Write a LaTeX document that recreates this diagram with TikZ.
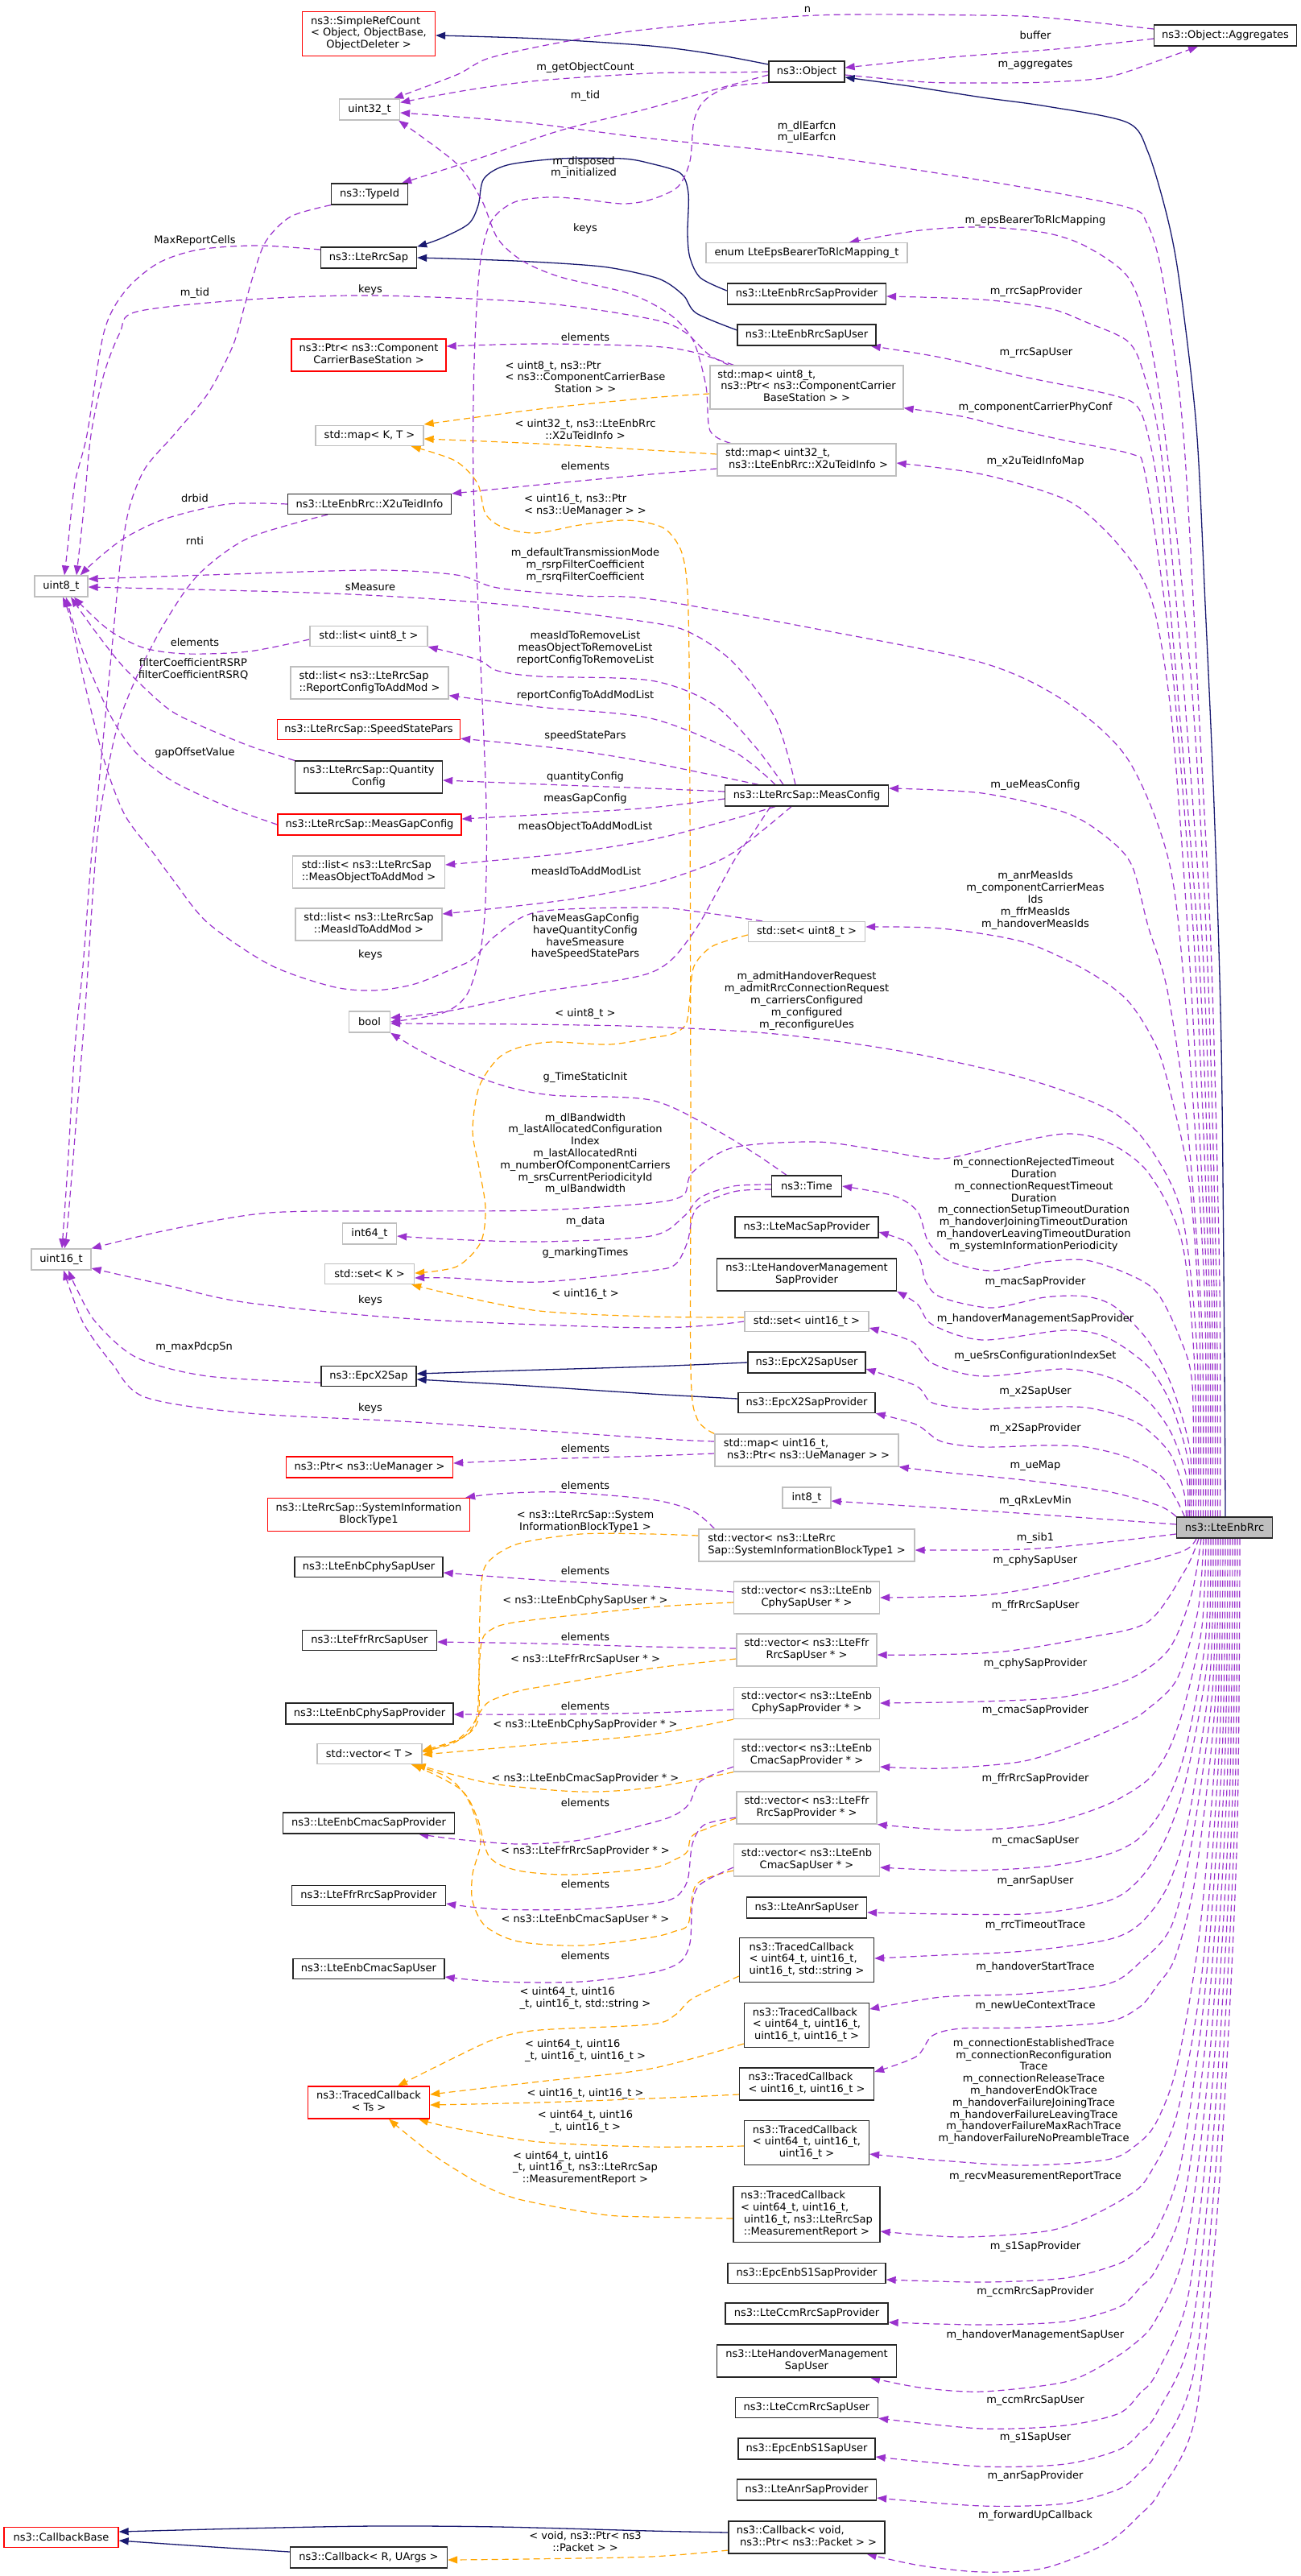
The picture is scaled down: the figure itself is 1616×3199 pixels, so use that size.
\documentclass[tikz,border=0pt]{standalone}
\usepackage{fontspec}
\setmainfont{DejaVu Sans}
\usetikzlibrary{arrows.meta}
\definecolor{pur}{HTML}{9A32CD}
\definecolor{org}{HTML}{FFA500}
\definecolor{mbl}{HTML}{191970}
\definecolor{gbd}{HTML}{BFBFBF}
\pgfdeclarelayer{back}\pgfdeclarelayer{edges}\pgfsetlayers{back,edges,main}
\newcommand\mlx[2]{\begin{tabular}{@{}l@{}}#1\\\multicolumn{1}{@{}c@{}}{#2}\end{tabular}}
\newcommand\mknode[7]{\node[#1,minimum width=#5pt,minimum height=#6pt] (#2) at (#3,#4) {#7};}
\tikzset{
 every node/.style={font=\fontsize{13}{14.8}\selectfont},
 cls/.style={draw=black!85, line width=1.3pt, fill=white, inner sep=2pt, align=center},
 ext/.style={cls, draw=gbd},
 trn/.style={cls, draw=red},
 usearr/.style={draw=pur, line width=1.2pt, dash pattern=on 8pt off 5pt, -{Triangle[length=12pt,width=9pt]}},
 tmpl/.style={usearr, draw=org},
 inh/.style={draw=mbl, line width=1.3pt, -{Triangle[length=12pt,width=9pt]}},
 lbl/.style={inner sep=0pt, align=center},
}
\begin{document}
\begin{tikzpicture}[x=1pt,y=-1pt]
\useasboundingbox (0,0) rectangle (1616,3199);
\begin{pgfonlayer}{back}\fill[white] (0,0) rectangle (1616,3199);\end{pgfonlayer}
% ---------------- nodes
\mknode{cls}{obj}{1002}{89}{94}{26}{ns3::Object}
\mknode{cls}{agg}{1522}{44}{177}{26}{ns3::Object::Aggregates}
\mknode{trn}{src}{458}{42}{165}{55}{\mlx{ns3::SimpleRefCount\\< Object, ObjectBase,}{ObjectDeleter >}}
\mknode{ext}{u32}{459}{136}{75}{26}{uint32\_t}
\mknode{cls}{tid}{459}{241}{95}{26}{ns3::TypeId}
\mknode{cls}{rsap}{458}{320}{119}{26}{ns3::LteRrcSap}
\mknode{ext}{enum}{1002}{314}{250}{25}{enum LteEpsBearerToRlcMapping\_t}
\mknode{cls}{lsp}{1002}{365}{197}{26}{ns3::LteEnbRrcSapProvider}
\mknode{cls}{lsu}{1002}{416}{172}{26}{ns3::LteEnbRrcSapUser}
\mknode{trn}{pccbs}{458}{441}{192}{40}{\mlx{ns3::Ptr< ns3::Component}{CarrierBaseStation >}}
\mknode{ext}{mu8}{1002}{481}{240}{54}{\mlx{std::map< uint8\_t,\\~ns3::Ptr< ns3::ComponentCarrier}{BaseStation > >}}
\mknode{ext}{mkt}{459}{541}{134}{25}{std::map< K, T >}
\mknode{ext}{mu32}{1002}{571}{222}{40}{\mlx{std::map< uint32\_t,}{~ns3::LteEnbRrc::X2uTeidInfo >}}
\mknode{cls}{x2u}{459}{626}{203}{25}{ns3::LteEnbRrc::X2uTeidInfo}
\mknode{ext}{u8}{76}{728}{66}{26}{uint8\_t}
\mknode{ext}{lu8}{458}{790}{146}{25}{std::list< uint8\_t >}
\mknode{ext}{lrc}{459}{848}{196}{40}{\mlx{std::list< ns3::LteRrcSap}{::ReportConfigToAddMod >}}
\mknode{trn}{ssp}{458}{906}{227}{25}{ns3::LteRrcSap::SpeedStatePars}
\mknode{cls}{qc}{458}{965}{183}{40}{\mlx{ns3::LteRrcSap::Quantity}{Config}}
\mknode{trn}{mgc}{459}{1024}{228}{26}{ns3::LteRrcSap::MeasGapConfig}
\mknode{cls}{mc}{1002}{988}{203}{26}{ns3::LteRrcSap::MeasConfig}
\mknode{ext}{lmo}{458}{1083}{189}{40}{\mlx{std::list< ns3::LteRrcSap}{::MeasObjectToAddMod >}}
\mknode{ext}{lmi}{458}{1148}{182}{40}{\mlx{std::list< ns3::LteRrcSap}{::MeasIdToAddMod >}}
\mknode{ext}{su8}{1002}{1157}{145}{25}{std::set< uint8\_t >}
\mknode{ext}{bool}{459}{1269}{51}{26}{bool}
\mknode{cls}{time}{1002}{1473}{87}{26}{ns3::Time}
\mknode{ext}{i64}{459}{1532}{67}{26}{int64\_t}
\mknode{ext}{u16}{76}{1564}{74}{26}{uint16\_t}
\mknode{cls}{mac}{1002}{1524}{178}{26}{ns3::LteMacSapProvider}
\mknode{ext}{setk}{459}{1582}{111}{25}{std::set< K >}
\mknode{cls}{hmsp}{1002}{1583}{223}{40}{\mlx{ns3::LteHandoverManagement}{SapProvider}}
\mknode{ext}{su16}{1002}{1641}{154}{25}{std::set< uint16\_t >}
\mknode{cls}{x2su}{1002}{1692}{146}{26}{ns3::EpcX2SapUser}
\mknode{cls}{x2s}{458}{1709}{118}{25}{ns3::EpcX2Sap}
\mknode{cls}{x2sp}{1002}{1742}{170}{25}{ns3::EpcX2SapProvider}
\mknode{ext}{mu16}{1002}{1801}{228}{40}{\mlx{std::map< uint16\_t,}{~ns3::Ptr< ns3::UeManager > >}}
\mknode{trn}{pue}{459}{1822}{207}{26}{ns3::Ptr< ns3::UeManager >}
\mknode{ext}{i8}{1002}{1860}{60}{26}{int8\_t}
\mknode{trn}{sib}{458}{1881}{251}{41}{\mlx{ns3::LteRrcSap::SystemInformation}{BlockType1}}
\mknode{cls,fill=gbd}{rrc}{1521}{1897}{119}{26}{ns3::LteEnbRrc}
\mknode{ext}{vsib}{1002}{1919}{268}{40}{\mlx{std::vector< ns3::LteRrc}{Sap::SystemInformationBlockType1 >}}
\mknode{cls}{cpu}{458}{1946}{184}{25}{ns3::LteEnbCphySapUser}
\mknode{ext}{vcpu}{1002}{1984}{181}{40}{\mlx{std::vector< ns3::LteEnb}{CphySapUser * >}}
\mknode{cls}{ffu}{459}{2037}{167}{25}{ns3::LteFfrRrcSapUser}
\mknode{ext}{vffu}{1002}{2049}{174}{40}{\mlx{std::vector< ns3::LteFfr}{RrcSapUser * >}}
\mknode{ext}{vcpp}{1002}{2115}{181}{39}{\mlx{std::vector< ns3::LteEnb}{CphySapProvider * >}}
\mknode{cls}{cpp}{459}{2128}{208}{26}{ns3::LteEnbCphySapProvider}
\mknode{ext}{vt}{459}{2178}{130}{25}{std::vector< T >}
\mknode{ext}{vcmp}{1002}{2180}{181}{40}{\mlx{std::vector< ns3::LteEnb}{CmacSapProvider * >}}
\mknode{ext}{vffp}{1002}{2245}{174}{40}{\mlx{std::vector< ns3::LteFfr}{RrcSapProvider * >}}
\mknode{cls}{cmp}{458}{2264}{213}{26}{ns3::LteEnbCmacSapProvider}
\mknode{ext}{vcmu}{1002}{2310}{181}{40}{\mlx{std::vector< ns3::LteEnb}{CmacSapUser * >}}
\mknode{cls}{ffp}{458}{2354}{191}{25}{ns3::LteFfrRrcSapProvider}
\mknode{cls}{anru}{1002}{2369}{149}{26}{ns3::LteAnrSapUser}
\mknode{cls}{tcs}{1002}{2434}{167}{55}{\mlx{ns3::TracedCallback\\< uint64\_t, uint16\_t,}{uint16\_t, std::string >}}
\mknode{cls}{cmu}{458}{2445}{188}{25}{ns3::LteEnbCmacSapUser}
\mknode{cls}{tc4}{1002}{2515}{155}{55}{\mlx{ns3::TracedCallback\\< uint64\_t, uint16\_t,}{uint16\_t, uint16\_t >}}
\mknode{cls}{tc2}{1002}{2588}{167}{40}{\mlx{ns3::TracedCallback}{< uint16\_t, uint16\_t >}}
\mknode{trn}{tcts}{458}{2611}{151}{40}{\mlx{ns3::TracedCallback}{< Ts >}}
\mknode{cls}{tc3}{1002}{2661}{155}{55}{\mlx{ns3::TracedCallback\\< uint64\_t, uint16\_t,}{uint16\_t >}}
\mknode{cls}{tcmr}{1002}{2750}{182}{69}{\mlx{ns3::TracedCallback\\< uint64\_t, uint16\_t,\\~uint16\_t, ns3::LteRrcSap}{::MeasurementReport >}}
\mknode{cls}{s1p}{1002}{2823}{196}{25}{ns3::EpcEnbS1SapProvider}
\mknode{cls}{ccp}{1002}{2873}{202}{26}{ns3::LteCcmRrcSapProvider}
\mknode{cls}{hmsu}{1002}{2932}{223}{40}{\mlx{ns3::LteHandoverManagement}{SapUser}}
\mknode{cls}{ccu}{1002}{2990}{177}{25}{ns3::LteCcmRrcSapUser}
\mknode{cls}{s1u}{1002}{3041}{170}{26}{ns3::EpcEnbS1SapUser}
\mknode{cls}{anrp}{1002}{3092}{173}{26}{ns3::LteAnrSapProvider}
\mknode{cls}{cbv}{1002}{3151}{194}{40}{\mlx{ns3::Callback< void,}{~ns3::Ptr< ns3::Packet > >}}
\mknode{trn}{cbb}{76}{3151}{142}{25}{ns3::CallbackBase}
\mknode{cls}{cbr}{458}{3176}{195}{26}{ns3::Callback< R, UArgs >}
% ---------------- labels
\node[lbl] (l01) at (727,84) {m\_getObjectCount};
\node[lbl] (l02) at (727,119) {m\_tid};
\node[lbl] (l03) at (725,208) {m\_disposed\\m\_initialized};
\node[lbl] (l04) at (727,284) {keys};
\node[lbl] (l05) at (242,299) {MaxReportCells};
\node[lbl] (l06) at (242,364) {m\_tid};
\node[lbl] (l07) at (460,360) {keys};
\node[lbl] (l08) at (727,419) {elements};
\node[lbl] (l09) at (727,579) {elements};
\node[lbl] (l10) at (242,619) {drbid};
\node[lbl] (l11) at (242,672) {rnti};
\node[lbl] (l12) at (727,702) {m\_defaultTransmissionMode\\m\_rsrpFilterCoefficient\\m\_rsrqFilterCoefficient};
\node[lbl] (l13) at (460,729) {sMeasure};
\node[lbl] (l14) at (242,798) {elements};
\node[lbl] (l15) at (727,805) {measIdToRemoveList\\measObjectToRemoveList\\reportConfigToRemoveList};
\node[lbl] (l16) at (240,831) {filterCoefficientRSRP\\filterCoefficientRSRQ};
\node[lbl] (l17) at (727,864) {reportConfigToAddModList};
\node[lbl] (l18) at (727,914) {speedStatePars};
\node[lbl] (l19) at (242,935) {gapOffsetValue};
\node[lbl] (l20) at (727,965) {quantityConfig};
\node[lbl] (l21) at (727,992) {measGapConfig};
\node[lbl] (l22) at (727,1027) {measObjectToAddModList};
\node[lbl] (l23) at (728,1082) {measIdToAddModList};
\node[lbl] (l24) at (727,1163) {haveMeasGapConfig\\haveQuantityConfig\\haveSmeasure\\haveSpeedStatePars};
\node[lbl] (l25) at (460,1186) {keys};
\node[lbl] (l26) at (727,1338) {g\_TimeStaticInit};
\node[lbl] (l27) at (727,1433) {m\_dlBandwidth\\m\_lastAllocatedConfiguration\\Index\\m\_lastAllocatedRnti\\m\_numberOfComponentCarriers\\m\_srsCurrentPeriodicityId\\m\_ulBandwidth};
\node[lbl] (l28) at (727,1517) {m\_data};
\node[lbl] (l29) at (727,1556) {g\_markingTimes};
\node[lbl] (l30) at (460,1615) {keys};
\node[lbl] (l31) at (241,1673) {m\_maxPdcpSn};
\node[lbl] (l32) at (460,1749) {keys};
\node[lbl] (l33) at (727,1799) {elements};
\node[lbl] (l34) at (727,1845) {elements};
\node[lbl] (l35) at (727,1951) {elements};
\node[lbl] (l36) at (727,2033) {elements};
\node[lbl] (l37) at (727,2119) {elements};
\node[lbl] (l38) at (727,2239) {elements};
\node[lbl] (l39) at (727,2340) {elements};
\node[lbl] (l40) at (727,2429) {elements};
\node[lbl] (l41) at (1003,12) {n};
\node[lbl] (l42) at (1286,44) {buffer};
\node[lbl] (l43) at (1286,80) {m\_aggregates};
\node[lbl] (l44) at (1002,164) {m\_dlEarfcn\\m\_ulEarfcn};
\node[lbl] (l45) at (1286,274) {m\_epsBearerToRlcMapping};
\node[lbl] (l46) at (1287,362) {m\_rrcSapProvider};
\node[lbl] (l47) at (1287,438) {m\_rrcSapUser};
\node[lbl] (l48) at (1286,506) {m\_componentCarrierPhyConf};
\node[lbl] (l49) at (1286,573) {m\_x2uTeidInfoMap};
\node[lbl] (l50) at (1286,975) {m\_ueMeasConfig};
\node[lbl] (l51) at (1286,1118) {m\_anrMeasIds\\m\_componentCarrierMeas\\Ids\\m\_ffrMeasIds\\m\_handoverMeasIds};
\node[lbl] (l52) at (1002,1243) {m\_admitHandoverRequest\\m\_admitRrcConnectionRequest\\m\_carriersConfigured\\m\_configured\\m\_reconfigureUes};
\node[lbl] (l53) at (1284,1496) {m\_connectionRejectedTimeout\\Duration\\m\_connectionRequestTimeout\\Duration\\m\_connectionSetupTimeoutDuration\\m\_handoverJoiningTimeoutDuration\\m\_handoverLeavingTimeoutDuration\\m\_systemInformationPeriodicity};
\node[lbl] (l54) at (1286,1592) {m\_macSapProvider};
\node[lbl] (l55) at (1286,1638) {m\_handoverManagementSapProvider};
\node[lbl] (l56) at (1286,1684) {m\_ueSrsConfigurationIndexSet};
\node[lbl] (l57) at (1286,1728) {m\_x2SapUser};
\node[lbl] (l58) at (1286,1774) {m\_x2SapProvider};
\node[lbl] (l59) at (1286,1820) {m\_ueMap};
\node[lbl] (l60) at (1286,1864) {m\_qRxLevMin};
\node[lbl] (l61) at (1286,1910) {m\_sib1};
\node[lbl] (l62) at (1286,1938) {m\_cphySapUser};
\node[lbl] (l63) at (1286,1994) {m\_ffrRrcSapUser};
\node[lbl] (l64) at (1286,2066) {m\_cphySapProvider};
\node[lbl] (l65) at (1286,2124) {m\_cmacSapProvider};
\node[lbl] (l66) at (1286,2209) {m\_ffrRrcSapProvider};
\node[lbl] (l67) at (1286,2286) {m\_cmacSapUser};
\node[lbl] (l68) at (1286,2336) {m\_anrSapUser};
\node[lbl] (l69) at (1286,2391) {m\_rrcTimeoutTrace};
\node[lbl] (l70) at (1286,2443) {m\_handoverStartTrace};
\node[lbl] (l71) at (1286,2491) {m\_newUeContextTrace};
\node[lbl] (l72) at (1284,2597) {m\_connectionEstablishedTrace\\m\_connectionReconfiguration\\Trace\\m\_connectionReleaseTrace\\m\_handoverEndOkTrace\\m\_handoverFailureJoiningTrace\\m\_handoverFailureLeavingTrace\\m\_handoverFailureMaxRachTrace\\m\_handoverFailureNoPreambleTrace};
\node[lbl] (l73) at (1286,2703) {m\_recvMeasurementReportTrace};
\node[lbl] (l74) at (1286,2790) {m\_s1SapProvider};
\node[lbl] (l75) at (1286,2846) {m\_ccmRrcSapProvider};
\node[lbl] (l76) at (1286,2900) {m\_handoverManagementSapUser};
\node[lbl] (l77) at (1286,2981) {m\_ccmRrcSapUser};
\node[lbl] (l78) at (1286,3027) {m\_s1SapUser};
\node[lbl] (l79) at (1286,3075) {m\_anrSapProvider};
\node[lbl] (l80) at (1286,3124) {m\_forwardUpCallback};
% template labels
\node[lbl] (t01) at (727,470) {\mlx{< uint8\_t, ns3::Ptr\\< ns3::ComponentCarrierBase}{Station > >}};
\node[lbl] (t02) at (727,535) {\mlx{< uint32\_t, ns3::LteEnbRrc}{::X2uTeidInfo >}};
\node[lbl] (t03) at (727,628) {\mlx{< uint16\_t, ns3::Ptr}{< ns3::UeManager > >}};
\node[lbl] (t04) at (727,1259) {< uint8\_t >};
\node[lbl] (t05) at (727,1607) {< uint16\_t >};
\node[lbl] (t06) at (727,1890) {\mlx{< ns3::LteRrcSap::System}{InformationBlockType1 >}};
\node[lbl] (t07) at (727,1988) {< ns3::LteEnbCphySapUser * >};
\node[lbl] (t08) at (727,2061) {< ns3::LteFfrRrcSapUser * >};
\node[lbl] (t09) at (727,2142) {< ns3::LteEnbCphySapProvider * >};
\node[lbl] (t10) at (727,2209) {< ns3::LteEnbCmacSapProvider * >};
\node[lbl] (t11) at (727,2299) {< ns3::LteFfrRrcSapProvider * >};
\node[lbl] (t12) at (727,2384) {< ns3::LteEnbCmacSapUser * >};
\node[lbl] (t13) at (727,2482) {\mlx{< uint64\_t, uint16}{\_t, uint16\_t, std::string >}};
\node[lbl] (t14) at (727,2547) {\mlx{< uint64\_t, uint16}{\_t, uint16\_t, uint16\_t >}};
\node[lbl] (t15) at (727,2600) {< uint16\_t, uint16\_t >};
\node[lbl] (t16) at (727,2635) {\mlx{< uint64\_t, uint16}{\_t, uint16\_t >}};
\node[lbl] (t17) at (727,2693) {\mlx{< uint64\_t, uint16\\\_t, uint16\_t, ns3::LteRrcSap}{::MeasurementReport >}};
\node[lbl] (t18) at (727,3158) {\mlx{< void, ns3::Ptr< ns3}{::Packet > >}};
% ---------------- edges
\begin{pgfonlayer}{edges}
% inheritance
\draw[inh] plot[smooth] coordinates {([yshift=9pt]obj.west) (885,67) (808,57) (670,48) ([yshift=-2pt]src.east)};
\draw[inh] plot[smooth] coordinates {([xshift=1pt]rrc.north) (1521,1700) (1517,1300) (1508,1000) (1497,750) (1486,530) (1465,350) (1450,270) (1426,189) (1400,152) (1300,132) (1220,121) (1130,107) ([yshift=-7pt]obj.east)};
\draw[inh] plot[smooth] coordinates {([yshift=4pt]lsp.west) (870,345) (857,320) (854,290) (855,240) (845,215) (808,203) (773,197) (696,197) (630,205) (601,222) (594,255) (582,278) (548,296) (rsap.north east)};
\draw[inh] plot[smooth] coordinates {([yshift=6pt]lsu.west) (865,389) (850,368) (830,352) (808,343) (747,331) (640,324) (rsap.east)};
\draw[inh] plot[smooth] coordinates {(x2su.west) (808,1697) (640,1702) ([yshift=3pt]x2s.east)};
\draw[inh] plot[smooth] coordinates {([yshift=5pt]x2sp.west) (808,1731) (640,1720) ([yshift=-4pt]x2s.east)};
\draw[inh] plot[smooth] coordinates {([yshift=6pt]cbv.west) (808,3143) (620,3138) (464,3137) (300,3140) ([yshift=7pt]cbb.east)};
\draw[inh] plot[smooth] coordinates {([yshift=7pt]cbr.west) (250,3162) ([yshift=-4pt]cbb.east)};
% templates
\draw[tmpl] plot[smooth] coordinates {([yshift=-8pt]mu8.west) (808,494) (670,508) ([yshift=14pt]mkt.east)};
\draw[tmpl] plot[smooth] coordinates {([yshift=7pt]mu32.west) (808,559) (670,551) ([yshift=-4pt]mkt.east)};
\draw[tmpl] plot[smooth] coordinates {(mu16.north west) (866,1762) (858,1700) (858,1400) (857,1000) (855,760) (848,690) (830,660) (808,650) (773,646) (720,652) (665,662) (625,655) (603,638) (593,600) (565,572) ([xshift=-16pt]mkt.south east)};
\draw[tmpl] plot[smooth] coordinates {([yshift=-4pt]su8.west) (885,1175) (862,1200) (857,1239) (852,1272) (835,1284) (808,1289) (757,1297) (685,1294) (644,1301) (618,1315) (595,1350) (587,1404) (595,1450) (603,1500) (597,1543) (567,1573) ([yshift=1pt]setk.east)};
\draw[tmpl] plot[smooth] coordinates {([yshift=5pt]su16.west) (808,1635) (670,1628) (565,1608) ([xshift=-4pt]setk.south east)};
\draw[tmpl] plot[smooth] coordinates {([yshift=12pt]vsib.west) (808,1905) (721,1905) (644,1917) (608,1938) (598,1965) (595,2050) (595,2125) (589,2146) (570,2160) ([yshift=4pt]vt.east)};
\draw[tmpl] plot[smooth] coordinates {([yshift=-6pt]vcpu.west) (808,1996) (644,2014) (608,2025) (598,2040) (595,2080) (593,2128) (584,2150) (560,2166) ([yshift=3pt]vt.east)};
\draw[tmpl] plot[smooth] coordinates {([yshift=-11pt]vffu.west) (808,2072) (700,2090) (644,2100) (608,2113) (595,2128) (585,2145) (565,2162) ([yshift=2pt]vt.east)};
\draw[tmpl] plot[smooth] coordinates {(vcpp.south west) (808,2154) (650,2168) ([yshift=-1pt]vt.east)};
\draw[tmpl] plot[smooth] coordinates {(vcmp.south west) (808,2220) (721,2225) (618,2216) (560,2203) ([xshift=-8pt]vt.south east)};
\draw[tmpl] plot[smooth] coordinates {([yshift=-13pt]vffp.west) (862,2278) (854,2299) (839,2309) (808,2320) (711,2328) (644,2323) (608,2306) (593,2258) (572,2222) ([xshift=-12pt]vt.south east)};
\draw[tmpl] plot[smooth] coordinates {([yshift=-13pt]vcmu.west) (865,2340) (855,2389) (839,2398) (808,2406) (721,2416) (644,2411) (603,2392) (587,2361) (587,2327) (597,2285) (582,2236) (556,2207) ([xshift=-14pt]vt.south east)};
\draw[tmpl] plot[smooth] coordinates {([yshift=-20pt]tcs.west) (860,2482) (839,2502) (808,2514) (670,2521) (618,2531) (567,2554) ([xshift=36pt]tcts.north)};
\draw[tmpl] plot[smooth] coordinates {([yshift=-23pt]tc4.west) (808,2569) (670,2585) ([yshift=10pt]tcts.east)};
\draw[tmpl] plot[smooth] coordinates {([yshift=-13pt]tc2.west) (808,2606) (670,2611) ([yshift=-3pt]tcts.east)};
\draw[tmpl] plot[smooth] coordinates {([yshift=-4pt]tc3.west) (808,2666) (670,2660) (565,2643) ([xshift=-14pt]tcts.south east)};
\draw[tmpl] plot[smooth] coordinates {([yshift=-5pt]tcmr.west) (808,2753) (747,2750) (644,2731) (593,2710) (541,2678) (505,2650) ([xshift=25pt]tcts.south)};
\draw[tmpl] plot[smooth] coordinates {([yshift=-16pt]cbv.west) (808,3175) (650,3178) ([yshift=-3pt]cbr.east)};
% usage, non-rrc
\draw[usearr] plot[smooth] coordinates {(obj.west) (900,90) (808,91) (670,100) (580,112) ([yshift=-5pt]u32.north east)};
\draw[usearr] plot[smooth] coordinates {([yshift=-4pt]obj.west) (885,112) (808,134) (696,162) (600,195) ([xshift=-8pt]tid.north east)};
\draw[usearr] plot[smooth] coordinates {(obj.south west) (905,108) (875,125) (862,150) (857,200) (842,232) (808,248) (773,253) (720,247) (680,245) (639,251) (610,275) (596,330) (589,450) (588,600) (596,800) (604,1000) (603,1120) (596,1185) (580,1235) (550,1258) (bool.east)};
\draw[usearr] plot[smooth] coordinates {([yshift=-4pt]obj.east) (1150,102) (1220,103) (1300,102) (1375,96) (1440,75) ([xshift=-34pt]agg.south)};
\draw[usearr] plot[smooth] coordinates {([yshift=-4pt]agg.west) (1323,60) (1169,72) ([yshift=5pt]obj.east)};
\draw[usearr] plot[smooth] coordinates {([yshift=8pt]agg.west) (1300,22) (1220,19) (1014,19) (808,36) (700,52) (608,72) (567,93) ([xshift=-8pt]u32.north east)};
\draw[usearr] plot[smooth] coordinates {(tid.south west) (361,269) (330,300) (314,344) (304,379) (289,430) (258,489) (216,540) (180,582) (160,633) (149,702) (139,805) (129,909) (119,1012) (113,1070) (103,1200) (93,1301) (84,1450) ([xshift=1pt]u16.north)};
\draw[usearr] plot[smooth] coordinates {([yshift=10pt]rsap.west) (320,305) (247,310) (196,327) (155,362) (129,413) (108,540) (93,600) (84,680) ([xshift=4pt]u8.north)};
\draw[usearr] plot[smooth] coordinates {([xshift=30pt]mu8.north west) (860,437) (808,430) (670,427) ([yshift=11pt]pccbs.east)};
\draw[usearr] plot[smooth] coordinates {([xshift=24pt]mu8.north west) (880,440) (850,412) (808,396) (670,376) (464,367) (309,372) (170,387) (149,413) (129,465) (113,540) (104,633) ([xshift=19pt]u8.north)};
\draw[usearr] plot[smooth] coordinates {([yshift=-11pt]mu32.west) (808,589) (670,602) ([yshift=13pt]x2u.east)};
\draw[usearr] plot[smooth] coordinates {([xshift=17pt]mu32.north west) (882,535) (877,480) (862,425) (839,396) (808,376) (773,362) (696,344) (649,324) (618,296) (598,248) (567,203) ([xshift=-2pt]u32.south east)};
\draw[usearr] plot[smooth] coordinates {(x2u.west) (283,626) (206,644) (155,668) (120,695) ([xshift=-10pt]u8.north east)};
\draw[usearr] plot[smooth] coordinates {([xshift=-52pt]x2u.south) (309,668) (247,713) (206,771) (170,840) (144,909) (124,1012) (116,1100) (106,1250) (94,1400) (84,1520) ([xshift=4pt]u16.north)};
\draw[usearr] plot[smooth] coordinates {([yshift=-4pt]lu8.west) (309,809) (232,812) (180,805) (139,785) (110,760) ([xshift=16pt]u8.south)};
\draw[usearr] plot[smooth] coordinates {(qc.north west) (309,926) (242,898) (206,878) (155,830) (119,785) ([xshift=12pt]u8.south)};
\draw[usearr] plot[smooth] coordinates {(mgc.west) (283,1002) (216,971) (170,936) (139,892) (108,823) (90,770) ([xshift=6pt]u8.south)};
\draw[usearr] plot[smooth] coordinates {([xshift=18pt]su8.north west) (865,1132) (808,1127) (670,1132) (618,1160) (587,1191) (567,1201) (515,1222) (464,1230) (412,1225) (335,1198) (258,1146) (216,1094) (191,1060) (155,1012) (129,943) (103,840) (88,770) ([xshift=2pt]u8.south)};
\draw[usearr] plot[smooth] coordinates {([xshift=-14pt]mc.north) (963,892) (911,823) (860,787) (808,773) (618,750) (412,737) ([yshift=-1pt]u8.east)};
\draw[usearr] plot[smooth] coordinates {([xshift=-29pt]mc.north) (937,926) (885,874) (808,845) (670,840) (618,833) (593,819) (lu8.south east)};
\draw[usearr] plot[smooth] coordinates {([xshift=-39pt]mc.north) (911,933) (808,892) (670,878) ([yshift=5pt]lrc.south east)};
\draw[usearr] plot[smooth] coordinates {([xshift=-60pt]mc.north) (808,947) (700,930) ([yshift=2pt]ssp.south east)};
\draw[usearr] plot[smooth] coordinates {([yshift=5pt]mc.west) (808,979) (700,975) ([yshift=-4pt]qc.east)};
\draw[usearr] plot[smooth] coordinates {([yshift=-4pt]mc.west) (808,1003) (700,1010) ([yshift=7pt]mgc.east)};
\draw[usearr] plot[smooth] coordinates {([xshift=-39pt]mc.south) (900,1020) (808,1043) (700,1060) ([yshift=9pt]lmo.east)};
\draw[usearr] plot[smooth] coordinates {([xshift=-19pt]mc.south) (930,1045) (890,1070) (808,1098) (700,1118) ([yshift=13pt]lmi.east)};
\draw[usearr] plot[smooth] coordinates {([xshift=-45pt]mc.south) (935,1035) (911,1070) (860,1160) (808,1208) (670,1232) (560,1255) ([yshift=5pt]bool.east)};
\draw[usearr] plot[smooth] coordinates {([xshift=-25pt]time.north) (937,1432) (885,1401) (808,1366) (685,1360) (618,1346) (541,1315) (bool.south east)};
\draw[usearr] plot[smooth] coordinates {([yshift=2pt]time.west) (911,1473) (870,1487) (849,1511) (808,1535) (670,1542) (560,1539) ([yshift=-3pt]i64.east)};
\draw[usearr] plot[smooth] coordinates {([yshift=-4pt]time.west) (911,1480) (865,1501) (854,1542) (839,1570) (808,1578) (670,1592) (560,1587) ([yshift=-5pt]setk.east)};
\draw[usearr] plot[smooth] coordinates {(su16.west) (808,1649) (515,1638) (309,1618) (211,1597) ([yshift=-11pt]u16.east)};
\draw[usearr] plot[smooth] coordinates {([yshift=-8pt]x2s.west) (258,1709) (170,1686) (119,1642) (95,1600) ([xshift=9pt]u16.south)};
\draw[usearr] plot[smooth] coordinates {([yshift=11pt]mu16.west) (808,1786) (515,1766) (309,1755) (180,1735) (139,1693) (103,1642) ([xshift=3pt]u16.south)};
\draw[usearr] plot[smooth] coordinates {([yshift=-4pt]mu16.west) (808,1808) (670,1812) ([yshift=5pt]pue.east)};
\draw[usearr] plot[smooth] coordinates {([xshift=20pt]vsib.north west) (860,1876) (808,1862) (696,1853) (618,1855) ([xshift=-6pt]sib.north east)};
\draw[usearr] plot[smooth] coordinates {([yshift=7pt]vcpu.west) (808,1970) (670,1962) ([yshift=-7pt]cpu.east)};
\draw[usearr] plot[smooth] coordinates {([yshift=2pt]vffu.west) (808,2045) (670,2041) ([yshift=-2pt]ffu.east)};
\draw[usearr] plot[smooth] coordinates {([yshift=-8pt]vcpp.west) (808,2127) (670,2129) ([yshift=-1pt]cpp.east)};
\draw[usearr] plot[smooth] coordinates {([yshift=-14pt]vcmp.west) (870,2212) (856,2240) (838,2254) (808,2264) (721,2285) (644,2290) (567,2284) ([xshift=-45pt]cmp.south east)};
\draw[usearr] plot[smooth] coordinates {([yshift=-12pt]vffp.west) (875,2266) (860,2290) (854,2335) (839,2356) (808,2364) (721,2371) (618,2371) ([yshift=-10pt]ffp.east)};
\draw[usearr] plot[smooth] coordinates {([yshift=-9pt]vcmu.west) (870,2340) (860,2364) (857,2413) (844,2437) (808,2450) (721,2461) (618,2461) ([yshift=-10pt]cmu.east)};
% usage from LteEnbRrc, upward
\draw[usearr] plot[smooth] coordinates {([xshift=-5.5pt]rrc.north) (1515,1600) (1505,1200) (1490,900) (1470,540) (1445,350) (1425,278) (1395,256) (1220,224) (1014,193) (808,172) (650,152) ([yshift=-4pt]u32.east)};
\draw[usearr] plot[smooth] coordinates {([xshift=-8.5pt]rrc.north) (1511,1600) (1500,1200) (1480,850) (1447,540) (1426,413) (1401,344) (1349,306) (1298,289) (1220,282) (1143,286) ([xshift=53pt]enum.north)};
\draw[usearr] plot[smooth] coordinates {([xshift=-11.5pt]rrc.north) (1508,1600) (1495,1200) (1470,850) (1442,560) (1421,465) (1401,424) (1349,400) (1303,383) (1220,372) ([yshift=-3pt]lsp.east)};
\draw[usearr] plot[smooth] coordinates {([xshift=-14.5pt]rrc.north) (1505,1600) (1490,1200) (1462,850) (1440,620) (1426,540) (1411,503) (1375,489) (1272,468) (1169,444) ([xshift=-7pt]lsu.south east)};
\draw[usearr] plot[smooth] coordinates {([xshift=-17.5pt]rrc.north) (1502,1600) (1485,1200) (1458,850) (1440,700) (1421,582) (1406,564) (1323,547) (1246,530) (1194,517) ([yshift=2pt]mu8.south east)};
\draw[usearr] plot[smooth] coordinates {([xshift=-20.5pt]rrc.north) (1499,1600) (1478,1200) (1457,909) (1437,771) (1416,713) (1375,661) (1323,620) (1220,589) ([yshift=-4pt]mu32.east)};
\draw[usearr] plot[smooth] coordinates {([xshift=-23.5pt]rrc.north) (1496,1600) (1473,1250) (1452,1070) (1401,943) (1323,871) (1220,823) (1014,781) (808,744) (721,740) (618,730) (567,714) (464,708) (258,714) ([yshift=9pt]u8.east)};
\draw[usearr] plot[smooth] coordinates {([xshift=-26.5pt]rrc.north) (1493,1650) (1475,1400) (1450,1230) (1426,1150) (1406,1075) (1375,1040) (1323,1009) (1220,985) ([yshift=9pt]mc.east)};
\draw[usearr] plot[smooth] coordinates {([xshift=-29.5pt]rrc.north) (1490,1650) (1478,1473) (1457,1370) (1437,1301) (1401,1243) (1349,1205) (1272,1170) (1169,1153) ([yshift=6pt]su8.east)};
\draw[usearr] plot[smooth] coordinates {([xshift=-32.5pt]rrc.north) (1487,1680) (1468,1508) (1426,1422) (1375,1377) (1272,1339) (1117,1305) (963,1284) (808,1275) (650,1272) ([yshift=-2pt]bool.east)};
\draw[usearr] plot[smooth] coordinates {([xshift=-35.5pt]rrc.north) (1484,1700) (1468,1542) (1426,1456) (1375,1418) (1323,1408) (1246,1422) (1169,1439) (1091,1428) (1014,1418) (911,1425) (860,1456) (849,1484) (808,1494) (670,1503) (515,1504) (335,1506) (206,1528) (u16.north east)};
\draw[usearr] plot[smooth] coordinates {([xshift=-38.5pt]rrc.north) (1481,1720) (1465,1660) (1437,1605) (1401,1582) (1349,1565) (1298,1567) (1231,1578) (1179,1566) (1153,1542) (1140,1505) (1110,1485) (time.east)};
\draw[usearr] plot[smooth] coordinates {([xshift=-41.5pt]rrc.north) (1478,1800) (1455,1720) (1426,1665) (1385,1623) (1349,1610) (1298,1611) (1231,1624) (1169,1611) (1150,1592) (1143,1565) (1128,1543) ([yshift=-6pt]mac.east)};
\draw[usearr] plot[smooth] coordinates {([xshift=-43.5pt]rrc.north) (1476,1815) (1455,1745) (1426,1697) (1375,1661) (1323,1652) (1220,1664) (1158,1645) (1140,1620) (hmsp.south east)};
\draw[usearr] plot[smooth] coordinates {([xshift=-45.5pt]rrc.north) (1474,1835) (1455,1780) (1426,1740) (1385,1713) (1323,1700) (1220,1709) (1158,1693) (1133,1666) ([yshift=-8pt]su16.east)};
\draw[usearr] plot[smooth] coordinates {([xshift=-47.5pt]rrc.north) (1470,1850) (1452,1803) (1411,1766) (1349,1748) (1272,1748) (1210,1750) (1158,1742) (1138,1721) ([yshift=-8pt]x2su.east)};
\draw[usearr] plot[smooth] coordinates {([xshift=-49.5pt]rrc.north) (1460,1860) (1442,1833) (1401,1810) (1349,1797) (1298,1795) (1220,1797) (1169,1790) (1138,1769) (x2sp.south east)};
\draw[usearr] plot[smooth] coordinates {(rrc.north west) (1440,1870) (1375,1852) (1272,1838) (1169,1828) (mu16.south east)};
\draw[usearr] plot[smooth] coordinates {([yshift=4pt]rrc.west) (1250,1878) ([yshift=-4pt]i8.east)};
\draw[usearr] plot[smooth] coordinates {([yshift=-8pt]rrc.west) (1375,1915) (1272,1924) ([yshift=-6pt]vsib.east)};
% usage from LteEnbRrc, downward
\draw[usearr] plot[smooth] coordinates {([xshift=-35pt]rrc.south) (1470,1926) (1401,1945) (1298,1969) (1220,1981) (vcpu.east)};
\draw[usearr] plot[smooth] coordinates {([xshift=-32pt]rrc.south) (1472,1950) (1426,2014) (1349,2034) (1246,2051) (1150,2055) ([yshift=-6pt]vffu.east)};
\draw[usearr] plot[smooth] coordinates {([xshift=-29pt]rrc.south) (1480,1980) (1452,2048) (1401,2086) (1323,2107) (1220,2113) (vcpp.east)};
\draw[usearr] plot[smooth] coordinates {([xshift=-26pt]rrc.south) (1488,2000) (1462,2085) (1426,2122) (1401,2138) (1349,2161) (1272,2187) (1169,2196) ([yshift=-14pt]vcmp.east)};
\draw[usearr] plot[smooth] coordinates {([xshift=-23pt]rrc.south) (1493,2020) (1472,2115) (1452,2172) (1426,2210) (1375,2241) (1298,2265) (1194,2273) (vffp.south east)};
\draw[usearr] plot[smooth] coordinates {([xshift=-20pt]rrc.south) (1497,2040) (1472,2175) (1447,2241) (1416,2282) (1375,2303) (1298,2318) (1194,2323) ([yshift=-9pt]vcmu.east)};
\draw[usearr] plot[smooth] coordinates {([xshift=-17pt]rrc.south) (1500,2060) (1473,2210) (1447,2285) (1416,2333) (1375,2361) (1272,2377) ([yshift=-6pt]anru.east)};
\draw[usearr] plot[smooth] coordinates {([xshift=-14pt]rrc.south) (1503,2080) (1476,2260) (1450,2343) (1416,2389) (1375,2409) (1272,2423) (1169,2428) ([yshift=2pt]tcs.east)};
\draw[usearr] plot[smooth] coordinates {([xshift=-11pt]rrc.south) (1506,2100) (1480,2290) (1455,2392) (1416,2437) (1375,2464) (1272,2476) (1169,2480) ([yshift=20pt]tc4.east)};
\draw[usearr] plot[smooth] coordinates {([xshift=-8pt]rrc.south) (1509,2120) (1485,2330) (1460,2430) (1437,2466) (1416,2492) (1375,2511) (1272,2518) (1194,2519) (1158,2528) (1138,2554) ([yshift=15pt]tc2.east)};
\draw[usearr] plot[smooth] coordinates {([xshift=-5pt]rrc.south) (1512,2140) (1490,2400) (1462,2565) (1436,2636) (1411,2664) (1375,2682) (1272,2689) (1169,2683) ([yshift=-14pt]tc3.east)};
\draw[usearr] plot[smooth] coordinates {([xshift=-2pt]rrc.south) (1515,2160) (1493,2450) (1462,2625) (1426,2703) (1401,2727) (1349,2755) (1298,2771) (1194,2778) ([yshift=-21pt]tcmr.east)};
\draw[usearr] plot[smooth] coordinates {([xshift=1pt]rrc.south) (1518,2180) (1496,2480) (1466,2690) (1436,2770) (1416,2792) (1390,2811) (1323,2829) (1220,2834) ([yshift=-8pt]s1p.east)};
\draw[usearr] plot[smooth] coordinates {([xshift=4pt]rrc.south) (1521,2200) (1499,2520) (1470,2735) (1436,2818) (1416,2841) (1390,2865) (1323,2883) (1220,2887) ([yshift=-11pt]ccp.east)};
\draw[usearr] plot[smooth] coordinates {([xshift=7pt]rrc.south) (1524,2220) (1502,2560) (1473,2790) (1436,2880) (1411,2909) (1375,2934) (1323,2958) (1220,2970) (1143,2965) ([xshift=-33pt]hmsu.south east)};
\draw[usearr] plot[smooth] coordinates {([xshift=10pt]rrc.south) (1527,2240) (1505,2600) (1476,2850) (1436,2948) (1416,2972) (1390,2997) (1323,3012) (1220,3016) (ccu.south east)};
\draw[usearr] plot[smooth] coordinates {([xshift=13pt]rrc.south) (1530,2260) (1508,2640) (1479,2900) (1436,2998) (1416,3021) (1390,3042) (1323,3060) (1220,3063) ([yshift=-10pt]s1u.east)};
\draw[usearr] plot[smooth] coordinates {([xshift=16pt]rrc.south) (1533,2280) (1511,2680) (1482,2950) (1436,3047) (1416,3070) (1390,3091) (1323,3109) (1220,3112) ([yshift=-10pt]anrp.east)};
\draw[usearr] plot[smooth] coordinates {([xshift=19pt]rrc.south) (1536,2300) (1514,2720) (1485,3000) (1440,3095) (1416,3123) (1375,3158) (1298,3189) (1220,3194) (1143,3186) ([xshift=-23pt]cbv.south east)};
\end{pgfonlayer}
\end{tikzpicture}
\end{document}
